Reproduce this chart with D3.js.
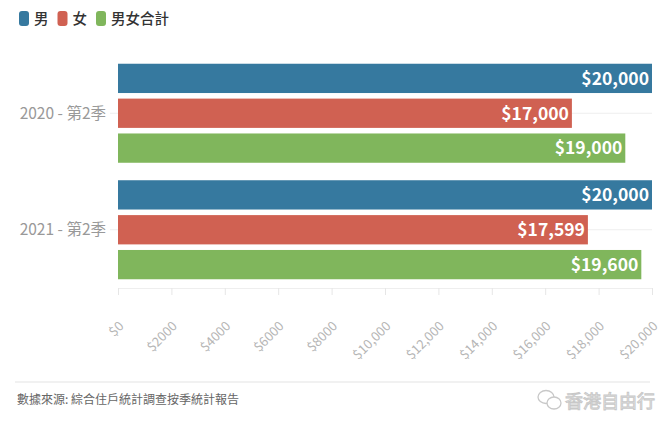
<!DOCTYPE html>
<html>
<head>
<meta charset="utf-8">
<script src="https://cdn.jsdelivr.net/npm/d3@7"></script>
<style>
body { margin: 0; background: #fff; }
text { font-family: "Noto Sans CJK TC", "Noto Sans", sans-serif; }
</style>
</head>
<body>
<div class="container"></div>
<script>
const wd = 663
const ht = 425

// data
const periods = ["2020 - 第2季", "2021 - 第2季"]
const seriesNames = ["男", "女", "男女合計"]
const male = [20000, 20000]
const female = [17000, 17599]
const total = [19000, 19600]
const xTicks = [0, 2000, 4000, 6000, 8000, 10000, 12000, 14000, 16000, 18000, 20000]
const xTickLabels = ["$0", "$2000", "$4000", "$6000", "$8000", "$10,000", "$12,000", "$14,000", "$16,000", "$18,000", "$20,000"]
const colors = ["#36799f", "#d06152", "#80b65c"]
const source = "數據來源: 綜合住戶統計調查按季統計報告"
const watermark = "香港自由行"

const svg = d3.select(".container")
  .append("svg")
  .attr("width", wd)
  .attr("height", ht)

const rows = periods.map((p, i) => ({ period: p, vals: [male[i], female[i], total[i]] }))

const x = d3.scaleLinear().domain([0, 20000]).range([118, 652])
const y0 = d3.scaleBand().domain(periods).range([55, 288]).paddingInner(0.15).paddingOuter(0.075)
const y1 = d3.scaleBand().domain(seriesNames).range([0, y0.bandwidth()]).paddingInner(0.16)

// legend
let lx = 19
seriesNames.forEach((s, i) => {
  svg.append("rect")
    .attr("x", lx).attr("y", 11)
    .attr("width", 10).attr("height", 15)
    .attr("rx", 3)
    .attr("fill", colors[i])
  const t = svg.append("text")
    .attr("x", lx + 15).attr("y", 24)
    .attr("font-size", 14.5)
    .attr("font-weight", 500)
    .attr("fill", "#333")
    .text(s)
  lx += 15 + t.node().getComputedTextLength() + 9
})

// horizontal guide lines at category centres
svg.append("g").selectAll("line")
  .data(periods)
  .join("line")
  .attr("x1", 110).attr("x2", x(20000))
  .attr("y1", d => y0(d) + y0.bandwidth() / 2)
  .attr("y2", d => y0(d) + y0.bandwidth() / 2)
  .attr("stroke", "#eeeeee")

// category labels
svg.append("g").selectAll("text")
  .data(periods)
  .join("text")
  .attr("x", 106)
  .attr("y", d => y0(d) + y0.bandwidth() / 2)
  .attr("dy", "0.35em")
  .attr("text-anchor", "end")
  .attr("font-size", 15.5)
  .attr("fill", "#999")
  .text(d => d)

// bars
const groups = svg.append("g").selectAll("g")
  .data(rows)
  .join("g")
  .attr("transform", d => "translate(0," + y0(d.period) + ")")

groups.selectAll("rect")
  .data(d => d.vals.map((v, i) => ({ name: seriesNames[i], v: v, i: i })))
  .join("rect")
  .attr("x", x(0))
  .attr("y", d => y1(d.name))
  .attr("width", d => x(d.v) - x(0))
  .attr("height", y1.bandwidth())
  .attr("fill", d => colors[d.i])

groups.selectAll("text")
  .data(d => d.vals.map((v, i) => ({ name: seriesNames[i], v: v, i: i })))
  .join("text")
  .attr("x", d => x(d.v) - 3)
  .attr("y", d => y1(d.name) + y1.bandwidth() / 2)
  .attr("dy", "0.36em")
  .attr("text-anchor", "end")
  .attr("font-size", 17.5)
  .attr("font-weight", "bold")
  .attr("fill", "#fff")
  .text(d => "$" + d3.format(",")(d.v))

// x axis
const xAxis = d3.axisBottom(x)
  .tickValues(xTicks)
  .tickSize(7)
  .tickFormat((d, i) => xTickLabels[i])

const ax = svg.append("g")
  .attr("transform", "translate(0,288)")
  .call(xAxis)
ax.select(".domain").attr("stroke", "#eee")
ax.selectAll(".tick line").attr("stroke", "#e6e6e6")
ax.selectAll(".tick text")
  .attr("fill", "#b5b5b5")
  .attr("font-size", 13)
  .attr("font-family", "\"Noto Sans CJK TC\", sans-serif")
  .attr("text-anchor", "end")
  .attr("x", 0)
  .attr("y", 0)
  .attr("dy", 0)
  .attr("transform", "translate(6,39) rotate(-45)")

// footer
svg.append("line")
  .attr("x1", 15).attr("x2", 650)
  .attr("y1", 382).attr("y2", 382)
  .attr("stroke", "#e3e3e3")

svg.append("text")
  .attr("x", 17).attr("y", 404)
  .attr("font-size", 12)
  .attr("fill", "#666")
  .text(source)

// watermark
const wm = svg.append("g").attr("fill", "none").attr("stroke", "#c8c8c8").attr("stroke-width", 1.3)
wm.append("ellipse").attr("cx", 546).attr("cy", 397).attr("rx", 8).attr("ry", 6.5)
wm.append("ellipse").attr("cx", 554).attr("cy", 403).attr("rx", 7).attr("ry", 6).attr("fill", "#fff")
svg.append("text")
  .attr("x", 565).attr("y", 408)
  .attr("font-size", 18)
  .attr("fill", "#fff")
  .attr("stroke", "#c8c8c8")
  .attr("stroke-width", 1)
  .text(watermark)
</script>
</body>
</html>
